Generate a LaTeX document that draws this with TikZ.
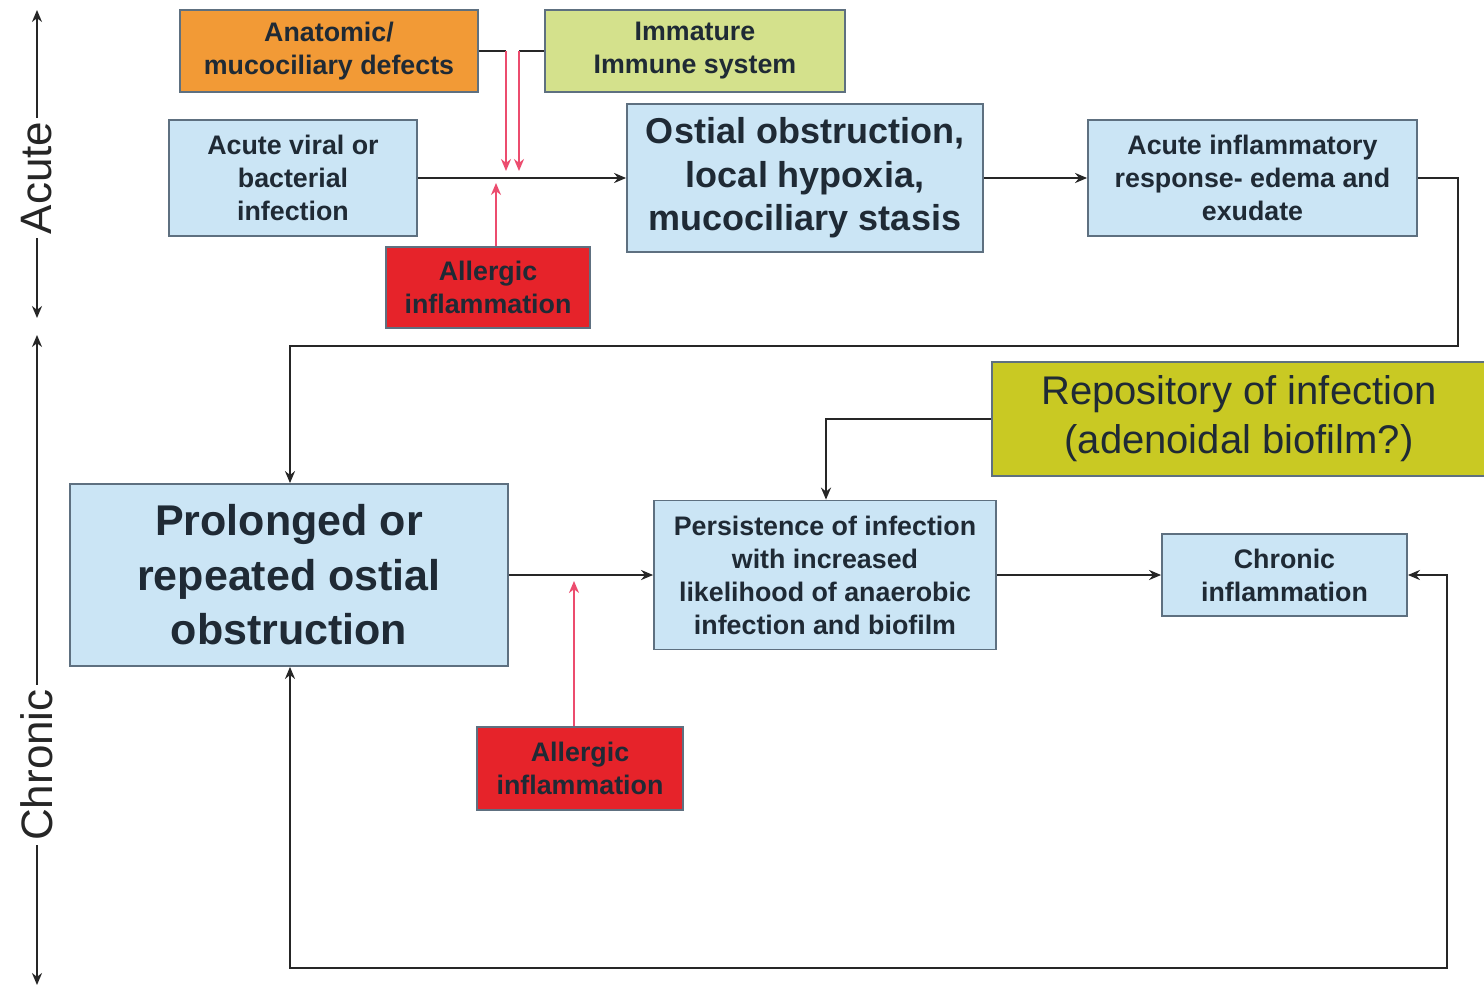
\documentclass[tikz,border=0pt]{standalone}
\usepackage{fontspec}
\setmainfont{Liberation Sans}
\usetikzlibrary{arrows.meta}
\definecolor{boxblue}{HTML}{CBE5F5}
\definecolor{boxedge}{HTML}{5E7080}
\definecolor{orangefill}{HTML}{F29A36}
\definecolor{greenfill}{HTML}{D4E18C}
\definecolor{redfill}{HTML}{E6232A}
\definecolor{olivefill}{HTML}{C9C923}
\definecolor{txt}{HTML}{1F2A35}
\definecolor{pinkline}{HTML}{EC4C6E}
\tikzset{
  box/.style={draw=boxedge, line width=0.9pt, align=center, text=txt, inner sep=2pt,
    font=\bfseries\fontsize{13.4}{16.5}\selectfont},
  bluebox/.style={box, fill=boxblue},
  conn/.style={line width=1.1pt, draw=black!85},
  arr/.style={-{Stealth[length=6pt,width=5pt]}},
  dblarr/.style={{Stealth[length=6pt,width=5pt]}-{Stealth[length=6pt,width=5pt]}},
  redarr/.style={line width=1.4pt, draw=pinkline, -{Stealth[length=6pt,width=5pt]}},
  axislabel/.style={fill=white, inner sep=2pt, rotate=90, text=black!85,
    font=\fontsize{22}{24}\selectfont}
}
\begin{document}
\begin{tikzpicture}[x=0.5pt,y=-0.5pt]
\useasboundingbox (0,0) rectangle (1484,991);
\fill[white] (0,0) rectangle (1484,991);

% axis
\coordinate (atop) at (37,10);
\coordinate (abot) at (37,318);
\coordinate (ctop) at (37,335);
\coordinate (cbot) at (37,985);
\draw[conn, dblarr] (atop) -- (abot);
\draw[conn, dblarr] (ctop) -- (cbot);
\node[axislabel] (acute) at (37,178) {Acute};
\node[axislabel] (chronic) at (37,765) {Chronic};

% boxes
\node[box, fill=orangefill, minimum width=149pt, minimum height=41pt] (anat) at (329,51) {Anatomic/\\mucociliary defects};
\node[box, fill=greenfill, minimum width=150pt, minimum height=41pt] (immat) at (695,51) {Immature\\Immune system};
\node[bluebox, minimum width=124pt, minimum height=58pt] (viral) at (293,178) {Acute viral or\\bacterial\\infection};
\node[bluebox, minimum width=178pt, minimum height=74pt, font=\bfseries\fontsize{18}{21.75}\selectfont] (ostial) at (805,178) {Ostial obstruction,\\local hypoxia,\\mucociliary stasis};
\node[bluebox, minimum width=164.5pt, minimum height=58pt] (acinf) at (1252.5,178) {Acute inflammatory\\response- edema and\\exudate};
\node[box, fill=redfill, minimum width=102pt, minimum height=40.5pt] (allerg1) at (488,287.5) {Allergic\\inflammation};
\node[bluebox, minimum width=219pt, minimum height=91pt, font=\bfseries\fontsize{21.5}{27.25}\selectfont] (prolong) at (289,575) {Prolonged or\\repeated ostial\\obstruction};
\node[bluebox, minimum width=171pt, minimum height=74.5pt] (persist) at (825,575) {Persistence of infection\\with increased\\likelihood of anaerobic\\infection and biofilm};
\node[box, fill=olivefill, minimum width=247pt, minimum height=57pt, font=\fontsize{20}{24.5}\selectfont] (repos) at (1239,419) {Repository of infection\\(adenoidal biofilm?)};
\node[bluebox, minimum width=122.5pt, minimum height=41pt] (chrinf) at (1284.5,575) {Chronic\\inflammation};
\node[box, fill=redfill, minimum width=103pt, minimum height=41.5pt] (allerg2) at (580,768.5) {Allergic\\inflammation};

% main connectors
\draw[conn, arr] (viral.east) -- (ostial.west);
\draw[conn, arr] (ostial.east) -- (acinf.west);
\coordinate (r1) at (1458,178);
\coordinate (r2) at (1458,346);
\coordinate (r3) at (290,346);
\draw[conn, arr] (acinf.east) -- (r1) -- (r2) -- (r3) -- (prolong.north -| r3);
\draw[conn, arr] (prolong.east) -- (persist.west);
\draw[conn, arr] (persist.east) -- (chrinf.west);
\coordinate (p1) at (826,419);
\draw[conn, arr] (repos.west) -- (p1) -- (persist.north -| p1);
\coordinate (f1) at (1447,575);
\coordinate (f2) at (1447,968);
\coordinate (f3) at (290,968);
\draw[conn, dblarr] (chrinf.east) -- (f1) -- (f2) -- (f3) -- (prolong.south -| f3);

% modifier connectors
\coordinate (m1) at (506,51);
\coordinate (m1e) at (506,171);
\coordinate (m2) at (519,51);
\coordinate (m2e) at (519,171);
\draw[conn] (anat.east) -- (m1);
\draw[conn] (immat.west) -- (m2);
\draw[redarr] (m1) -- (m1e);
\draw[redarr] (m2) -- (m2e);
\coordinate (a1s) at (496,247);
\coordinate (a1e) at (496,183);
\draw[redarr] (allerg1.north -| a1s) -- (a1e);
\coordinate (a2s) at (574,727);
\coordinate (a2e) at (574,581);
\draw[redarr] (allerg2.north -| a2s) -- (a2e);
\end{tikzpicture}
\end{document}
